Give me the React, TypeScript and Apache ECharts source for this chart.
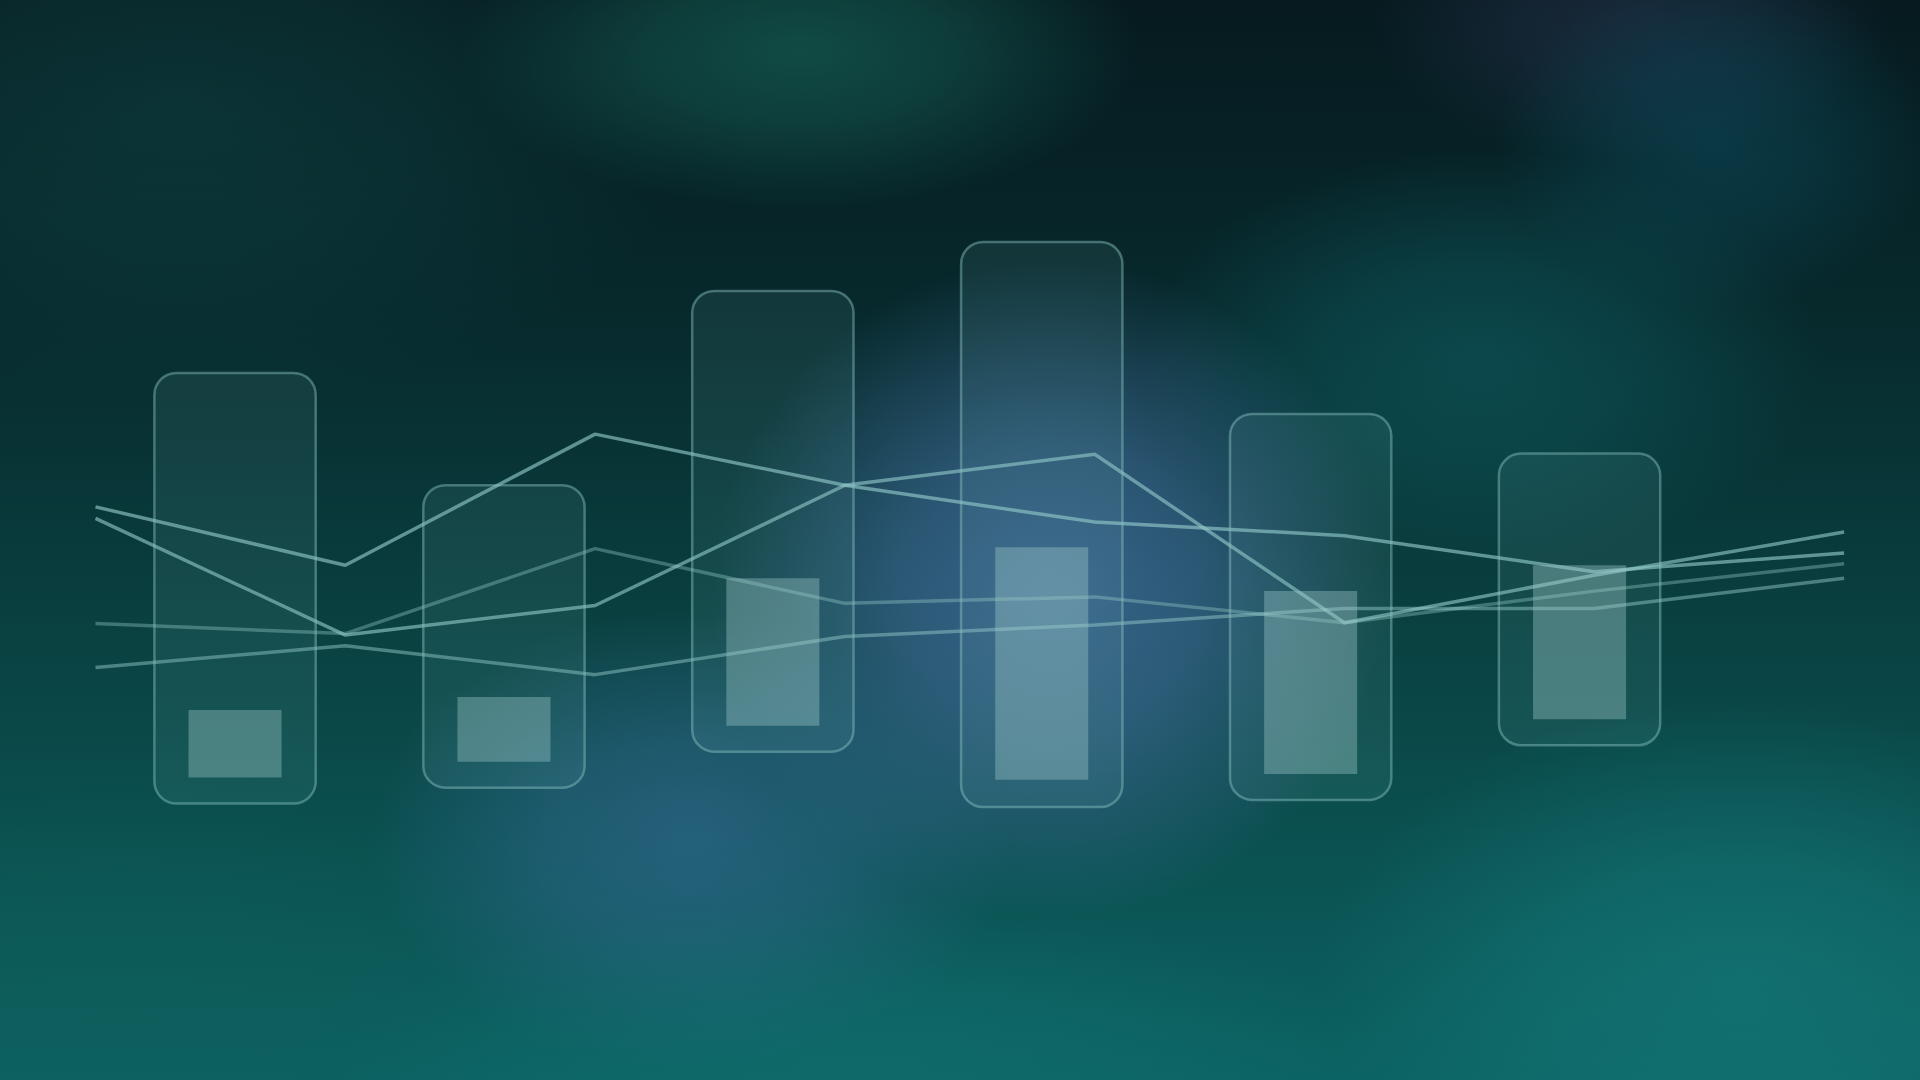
import React, { useEffect, useRef } from 'react';
import * as echarts from 'echarts';

// ---- data ----
const barCategories = ['P1', 'P2', 'P3', 'P4', 'P5', 'P6'];
const capsuleLow = [13.4, 15.6, 20.6, 12.9, 13.9, 21.5];
const capsuleHigh = [73.2, 57.6, 84.6, 91.4, 67.5, 62.0];
const innerLow = [17.0, 19.2, 24.2, 16.7, 17.5, 25.1];
const innerHigh = [26.4, 28.2, 44.7, 49.0, 42.9, 46.5];

const lineCategories = ['T1', 'T2', 'T3', 'T4', 'T5', 'T6', 'T7', 'T8'];
const seriesA = [54.6, 46.5, 64.7, 57.6, 52.5, 50.6, 45.6, 48.2];
const seriesB = [53.0, 36.8, 40.9, 57.6, 61.9, 38.5, 45.1, 51.1];
const seriesC = [38.4, 37.0, 48.8, 41.2, 42.1, 38.5, 42.9, 46.7];
const seriesD = [32.3, 35.3, 31.3, 36.6, 38.2, 40.5, 40.5, 44.7];

const W = 1920;
const H = 1080;

function blob(cx: number, cy: number, rx: number, ry: number, rgb: string, a: number) {
  return {
    type: 'ellipse',
    silent: true,
    z: 0,
    shape: { cx, cy, rx, ry },
    style: {
      fill: new echarts.graphic.RadialGradient(0.5, 0.5, 0.5, [
        { offset: 0, color: `rgba(${rgb},${a})` },
        { offset: 0.45, color: `rgba(${rgb},${a * 0.7})` },
        { offset: 1, color: `rgba(${rgb},0)` },
      ]),
    },
  };
}

export default function App() {
  const ref = useRef<HTMLDivElement>(null);
  useEffect(() => {
    if (!ref.current) return;
    const chart = echarts.init(ref.current, undefined, { renderer: 'svg' });

    const capsuleData = barCategories.map((_, i) => [i, capsuleLow[i], capsuleHigh[i]]);
    const innerData = barCategories.map((_, i) => [i, innerLow[i], innerHigh[i]]);

    const makeRect = (widthRatio: number, radius: number, style: any) =>
      (params: any, api: any) => {
        const idx = api.value(0);
        const lo = api.coord([idx, api.value(1)]);
        const hi = api.coord([idx, api.value(2)]);
        const band = api.size([1, 0])[0];
        const w = band * widthRatio;
        return {
          type: 'rect',
          shape: { x: lo[0] - w / 2, y: hi[1], width: w, height: lo[1] - hi[1], r: radius },
          style,
        };
      };

    const lineStyle = (color: string) => ({
      type: 'line' as const,
      xAxisIndex: 1,
      yAxisIndex: 1,
      symbol: 'none',
      smooth: false,
      z: 3,
      lineStyle: { color, width: 3.5 },
    });

    chart.setOption({
      animation: false,
      backgroundColor: 'transparent',
      graphic: [
        {
          type: 'rect',
          silent: true,
          z: 0,
          shape: { x: 0, y: 0, width: W, height: H },
          style: {
            fill: new echarts.graphic.LinearGradient(0, 0, 0, 1, [
              { offset: 0, color: '#061a1f' },
              { offset: 0.3, color: '#072a2d' },
              { offset: 0.6, color: '#0a4242' },
              { offset: 1, color: '#0c6262' },
            ]),
          },
        },
        blob(180, 110, 520, 300, '16,70,70', 0.5),
        blob(800, 50, 340, 160, '20,90,80', 0.75),
        blob(1630, 20, 260, 140, '42,52,82', 0.5),
        blob(1715, 140, 220, 170, '12,72,88', 0.6),
        blob(1480, 360, 340, 210, '15,95,100', 0.55),
        blob(1050, 590, 340, 330, '72,112,165', 0.75),
        blob(690, 840, 320, 230, '50,105,145', 0.65),
        blob(1740, 980, 420, 280, '22,125,125', 0.6),
        blob(860, 1070, 520, 170, '18,112,112', 0.55),
        blob(120, 1000, 420, 220, '14,95,90', 0.45),
      ],
      grid: [
        { left: 100.6, width: 1613.4, top: 180, height: 720 },
        { left: 95.5, width: 1748.6, top: 180, height: 720 },
      ],
      xAxis: [
        { type: 'category', gridIndex: 0, data: barCategories, show: false },
        { type: 'category', gridIndex: 1, data: lineCategories, boundaryGap: false, show: false },
      ],
      yAxis: [
        { type: 'value', gridIndex: 0, min: 0, max: 100, show: false },
        { type: 'value', gridIndex: 1, min: 0, max: 100, show: false },
      ],
      series: [
        { ...lineStyle('rgba(150,205,205,0.62)'), name: 'A', data: seriesA },
        { ...lineStyle('rgba(150,205,205,0.6)'), name: 'B', data: seriesB },
        { ...lineStyle('rgba(150,205,200,0.38)'), name: 'C', data: seriesC },
        { ...lineStyle('rgba(150,205,205,0.47)'), name: 'D', data: seriesD },
        {
          type: 'custom',
          name: 'capsule',
          xAxisIndex: 0,
          yAxisIndex: 0,
          z: 4,
          encode: { x: 0, y: [1, 2] },
          data: capsuleData,
          renderItem: makeRect(0.6, 22, {
            fill: 'rgba(130,195,195,0.1)',
            stroke: 'rgba(140,195,195,0.45)',
            lineWidth: 2.5,
          }),
        },
        {
          type: 'custom',
          name: 'inner',
          xAxisIndex: 0,
          yAxisIndex: 0,
          z: 5,
          encode: { x: 0, y: [1, 2] },
          data: innerData,
          renderItem: makeRect(0.346, 0, {
            fill: 'rgba(160,200,200,0.39)',
          }),
        },
      ],
    });
    return () => chart.dispose();
  }, []);
  return (
    <div
      ref={ref}
      style={{ position: 'fixed', left: 0, top: 0, width: W, height: H, background: '#072a2d' }}
    />
  );
}
